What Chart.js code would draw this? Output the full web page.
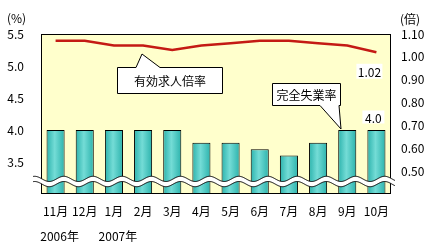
<!DOCTYPE html>
<html>
<head>
<meta charset="utf-8">
<script src="https://cdn.jsdelivr.net/npm/chart.js@4/dist/chart.umd.min.js"></script>
<style>
  html, body { margin: 0; padding: 0; background: #fff; }
  #wrap { width: 439px; height: 249px; }
</style>
</head>
<body>
<div id="wrap"><canvas id="chart" width="439" height="249"></canvas></div>
<script>
const months = ['11月', '12月', '1月', '2月', '3月', '4月', '5月', '6月', '7月', '8月', '9月', '10月'];
const yearLabels = ['2006年', '2007年'];
const yearStartIndex = [0, 2];
const unemploymentRate = [4.0, 4.0, 4.0, 4.0, 4.0, 3.8, 3.8, 3.7, 3.6, 3.8, 4.0, 4.0];
const jobOfferRatio = [1.07, 1.07, 1.05, 1.05, 1.03, 1.05, 1.06, 1.07, 1.07, 1.06, 1.05, 1.02];
const leftTicks = [3.5, 4.0, 4.5, 5.0, 5.5];
const rightTicks = [0.5, 0.6, 0.7, 0.8, 0.9, 1.0, 1.1];

const FONT = "'Noto Sans CJK JP', 'Noto Sans', sans-serif";

function barGradient(context) {
  const chart = context.chart;
  const xs = chart.scales.x;
  if (!xs || context.dataIndex === undefined) return '#44c8c4';
  const cx = xs.getPixelForValue(context.dataIndex);
  if (!isFinite(cx)) return '#44c8c4';
  const g = chart.ctx.createLinearGradient(cx - 9, 0, cx + 9, 0);
  g.addColorStop(0, '#2cb3ad');
  g.addColorStop(0.45, '#74dcd6');
  g.addColorStop(1, '#2cb3ad');
  return g;
}

function callout(ctx, x, y, w, h, side, b1, b2, tip, text) {
  ctx.beginPath();
  ctx.moveTo(x, y);
  if (side === 'top') {
    ctx.lineTo(b1, y);
    ctx.lineTo(tip[0], tip[1]);
    ctx.lineTo(b2, y);
  }
  ctx.lineTo(x + w, y);
  ctx.lineTo(x + w, y + h);
  if (side === 'bottom') {
    ctx.lineTo(b2, y + h);
    ctx.lineTo(tip[0], tip[1]);
    ctx.lineTo(b1, y + h);
  }
  ctx.lineTo(x, y + h);
  ctx.closePath();
  ctx.fillStyle = '#fff';
  ctx.fill();
  ctx.strokeStyle = '#000';
  ctx.lineWidth = 1;
  ctx.stroke();
  ctx.fillStyle = '#000';
  ctx.font = '12px ' + FONT;
  ctx.textAlign = 'center';
  ctx.textBaseline = 'middle';
  ctx.fillText(text, x + w / 2, y + h / 2 + 1);
}

function valueTag(ctx, cx, cy, w, h, text) {
  ctx.fillStyle = '#fff';
  ctx.fillRect(cx - w / 2, cy - h / 2, w, h);
  ctx.fillStyle = '#000';
  ctx.font = '12px ' + FONT;
  ctx.textAlign = 'center';
  ctx.textBaseline = 'middle';
  ctx.fillText(text, cx, cy + 1);
}

const decor = {
  id: 'decor',
  beforeDatasetsDraw(chart) {
    const { ctx, chartArea: a } = chart;
    ctx.save();
    ctx.fillStyle = '#ffffcc';
    ctx.fillRect(a.left, a.top, a.right - a.left, a.bottom - a.top);
    ctx.restore();
  },
  afterDatasetsDraw(chart) {
    const { ctx, chartArea: a, scales } = chart;
    ctx.save();
    ctx.strokeStyle = '#000';
    ctx.lineWidth = 1;
    ctx.strokeRect(a.left + 0.5, a.top + 0.5, a.right - a.left - 1, a.bottom - a.top - 1);

    // axis break: wavy white band
    const period = (a.right - a.left) / months.length;
    const mid = 181.5, amp = 2.6, half = 2.6;
    const x0 = a.left - 8, x1 = a.right + 4;
    const wave = (x) => mid - amp * Math.cos(2 * Math.PI * (x - 93) / period);
    ctx.beginPath();
    for (let x = x0; x <= x1; x += 0.5) ctx.lineTo(x, wave(x) - half);
    for (let x = x1; x >= x0; x -= 0.5) ctx.lineTo(x, wave(x) + half);
    ctx.closePath();
    ctx.fillStyle = '#fff';
    ctx.fill();
    ctx.beginPath();
    for (let x = x0; x <= x1; x += 0.5) ctx.lineTo(x, wave(x) - half);
    ctx.stroke();
    ctx.beginPath();
    for (let x = x0; x <= x1; x += 0.5) ctx.lineTo(x, wave(x) + half);
    ctx.stroke();

    // callouts and value tags
    const last = months.length - 1;
    const lx = scales.x.getPixelForValue(last);
    valueTag(ctx, lx - 7, scales.y1.getPixelForValue(jobOfferRatio[last]) + 19, 26, 15, jobOfferRatio[last].toFixed(2));
    valueTag(ctx, lx - 3, scales.y.getPixelForValue(unemploymentRate[last]) - 13, 22, 13, unemploymentRate[last].toFixed(1));
    callout(ctx, 117.5, 67.5, 105, 26, 'top', 136, 160, [142, 54], '有効求人倍率');
    callout(ctx, 272.5, 83.5, 68, 22, 'bottom', 320, 339, [341, 129], '完全失業率');

    // units and years
    ctx.fillStyle = '#000';
    ctx.font = '12px ' + FONT;
    ctx.textBaseline = 'middle';
    ctx.textAlign = 'left';
    ctx.fillText('(%)', 7, 18);
    ctx.fillText('(倍)', 400, 19);
    ctx.textAlign = 'center';
    yearLabels.forEach((t, i) => {
      ctx.fillText(t, scales.x.getPixelForValue(yearStartIndex[i]) + 4, 236);
    });
    ctx.restore();
  }
};

new Chart(document.getElementById('chart'), {
  data: {
    labels: months,
    datasets: [
      {
        type: 'line',
        label: '有効求人倍率',
        data: jobOfferRatio,
        yAxisID: 'y1',
        borderColor: '#c41a14',
        borderWidth: 2.5,
        pointRadius: 0,
        tension: 0,
        order: 0
      },
      {
        type: 'bar',
        label: '完全失業率',
        data: unemploymentRate,
        yAxisID: 'y',
        base: 3,
        backgroundColor: barGradient,
        borderColor: '#000',
        borderWidth: 1,
        barPercentage: 0.62,
        categoryPercentage: 1,
        order: 1
      }
    ]
  },
  options: {
    responsive: false,
    animation: false,
    devicePixelRatio: 1,
    layout: { padding: { top: 34, left: 0, right: 0, bottom: 0 } },
    plugins: { legend: { display: false }, tooltip: { enabled: false } },
    scales: {
      x: {
        offset: true,
        grid: { display: false, drawTicks: false },
        border: { display: false },
        ticks: { color: '#000', font: { size: 12, family: FONT }, padding: 10, maxRotation: 0, autoSkip: false },
        afterFit: s => { s.height = 55; }
      },
      y: {
        position: 'left',
        min: 3, max: 5.5,
        grid: { display: false, drawTicks: false },
        border: { display: false },
        afterBuildTicks: s => { s.ticks = leftTicks.map(v => ({ value: v })); },
        ticks: { color: '#000', font: { size: 12, family: FONT }, padding: 17, callback: v => v.toFixed(1) },
        afterFit: s => { s.width = 41; }
      },
      y1: {
        position: 'right',
        min: 0.4, max: 1.1,
        grid: { display: false, drawTicks: false },
        border: { display: false },
        afterBuildTicks: s => { s.ticks = rightTicks.map(v => ({ value: v })); },
        ticks: { color: '#000', font: { size: 12, family: FONT }, padding: 10, callback: v => v.toFixed(2) },
        afterFit: s => { s.width = 48; }
      }
    }
  },
  plugins: [decor]
});
</script>
</body>
</html>
